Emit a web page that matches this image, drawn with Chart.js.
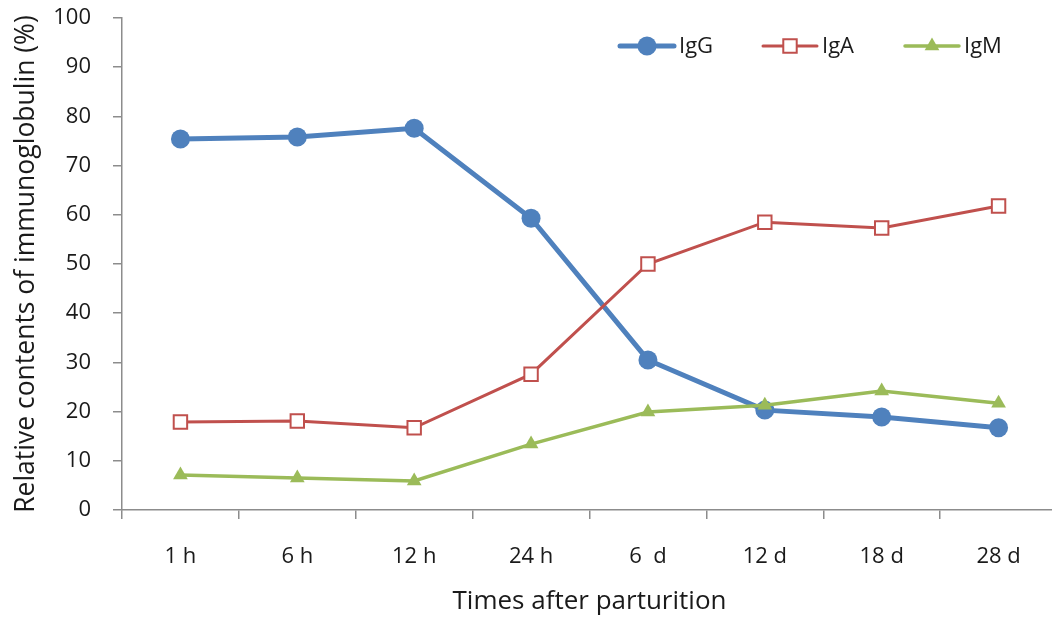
<!DOCTYPE html>
<html lang="en">

<head>
    <meta charset="UTF-8">
    <title>Relative contents of immunoglobulin</title>
    <style>
        html, body {
            margin: 0;
            padding: 0;
            background: #ffffff;
            overflow: hidden;
        }

        .chart-container {
            position: relative;
            width: 1057px;
            height: 620px;
        }
    </style>
</head>

<body>
    <div class="chart-container">
        <canvas id="chartCanvas"></canvas>
    </div>

    <script src="https://cdn.jsdelivr.net/npm/chart.js"></script>
    <script>
        // Sampling times and relative contents (%) of each immunoglobulin class
        const times = ['1 h', '6 h', '12 h', '24 h', '6  d', '12 d', '18 d', '28 d'];
        const igG = [75.4, 75.8, 77.6, 59.3, 30.5, 20.3, 18.9, 16.7];
        const igA = [17.9, 18.1, 16.7, 27.6, 50.0, 58.5, 57.3, 61.8];
        const igM = [7.1, 6.5, 5.9, 13.4, 19.9, 21.3, 24.2, 21.7];
        const yTicks = [0, 10, 20, 30, 40, 50, 60, 70, 80, 90, 100];

        const fontFamily = '"Open Sans", "Noto Sans", sans-serif';
        const axisGrey = '#8c8c8c';
        const textColor = '#1a1a1a';

        Chart.defaults.font.family = fontFamily;
        Chart.defaults.color = textColor;

        function drawMarker(ctx, style, x, y, r) {
            if (style === 'circle') {
                ctx.arc(x, y, r, 0, Math.PI * 2);
            } else if (style === 'rect') {
                const s = r * Math.SQRT1_2;
                ctx.rect(x - s, y - s, 2 * s, 2 * s);
            } else if (style === 'triangle') {
                ctx.moveTo(x, y - r);
                ctx.lineTo(x + r * 0.866, y + r * 0.5);
                ctx.lineTo(x - r * 0.866, y + r * 0.5);
                ctx.closePath();
            }
        }

        // legend drawn by hand: line - marker - line, then the label
        const lineLegend = {
            id: 'lineLegend',
            afterDraw(chart) {
                const ctx = chart.ctx;
                const starts = [620, 763, 905];
                const y = 46;
                ctx.save();
                chart.data.datasets.forEach(function (ds, i) {
                    const x = starts[i];
                    ctx.strokeStyle = ds.borderColor;
                    ctx.lineWidth = ds.borderWidth;
                    ctx.lineCap = 'round';
                    ctx.beginPath();
                    ctx.moveTo(x, y);
                    ctx.lineTo(x + 54, y);
                    ctx.stroke();
                    ctx.fillStyle = ds.pointBackgroundColor;
                    ctx.strokeStyle = ds.pointBorderColor;
                    ctx.lineWidth = ds.pointBorderWidth;
                    ctx.beginPath();
                    drawMarker(ctx, ds.pointStyle, x + 27, y, ds.pointRadius);
                    ctx.fill();
                    if (ds.pointBorderWidth) ctx.stroke();
                    ctx.fillStyle = textColor;
                    ctx.font = '22px ' + fontFamily;
                    ctx.textBaseline = 'middle';
                    ctx.textAlign = 'left';
                    ctx.fillText(ds.label, x + 59, y + 1);
                });
                ctx.restore();
            }
        };

        const ctx = document.getElementById('chartCanvas').getContext('2d');

        const chart = new Chart(ctx, {
            type: 'line',
            data: {
                labels: times,
                datasets: [{
                    label: 'IgG',
                    data: igG,
                    borderColor: '#4f81bd',
                    backgroundColor: '#4f81bd',
                    borderWidth: 5,
                    pointStyle: 'circle',
                    pointRadius: 9.5,
                    pointBackgroundColor: '#4f81bd',
                    pointBorderColor: '#4f81bd',
                    pointBorderWidth: 0,
                    tension: 0,
                    order: 3
                }, {
                    label: 'IgA',
                    data: igA,
                    borderColor: '#c0504d',
                    backgroundColor: '#ffffff',
                    borderWidth: 3,
                    pointStyle: 'rect',
                    pointRadius: 9.5,
                    pointBackgroundColor: '#ffffff',
                    pointBorderColor: '#c0504d',
                    pointBorderWidth: 2,
                    tension: 0,
                    order: 2
                }, {
                    label: 'IgM',
                    data: igM,
                    borderColor: '#9bbb59',
                    backgroundColor: '#9bbb59',
                    borderWidth: 3.5,
                    pointStyle: 'triangle',
                    pointRadius: 8.5,
                    pointBackgroundColor: '#9bbb59',
                    pointBorderColor: '#9bbb59',
                    pointBorderWidth: 0,
                    tension: 0,
                    order: 1
                }]
            },
            options: {
                responsive: true,
                maintainAspectRatio: false,
                animation: false,
                layout: {
                    autoPadding: false,
                    padding: { top: 18, right: 0, left: 0, bottom: 0 }
                },
                plugins: {
                    legend: { display: false },
                    tooltip: { enabled: false }
                },
                scales: {
                    x: {
                        offset: true,
                        grid: {
                            offset: true,
                            drawOnChartArea: false,
                            drawTicks: true,
                            tickLength: 9,
                            color: axisGrey,
                            lineWidth: 1.5
                        },
                        border: { display: true, color: axisGrey, width: 1.5 },
                        ticks: {
                            padding: 25,
                            maxRotation: 0,
                            font: { size: 22 },
                            color: textColor
                        },
                        title: {
                            display: true,
                            text: 'Times after parturition',
                            font: { size: 26 },
                            color: textColor,
                            padding: { top: 0, bottom: 3 }
                        },
                        afterFit(scale) {
                            scale.height = 110;
                            scale.paddingLeft = 0;
                            scale.paddingRight = 0;
                        }
                    },
                    y: {
                        min: 0,
                        max: 100,
                        afterBuildTicks(scale) {
                            scale.ticks = yTicks.map(v => ({ value: v }));
                        },
                        grid: {
                            drawOnChartArea: false,
                            drawTicks: true,
                            tickLength: 9,
                            color: axisGrey,
                            lineWidth: 1.5
                        },
                        border: { display: true, color: axisGrey, width: 1.5 },
                        ticks: {
                            padding: 22,
                            font: { size: 22 },
                            color: textColor
                        },
                        title: {
                            display: true,
                            text: 'Relative contents of immunoglobulin (%)',
                            font: { size: 26.5 },
                            color: textColor,
                            padding: { top: 11, bottom: 0 }
                        },
                        afterFit(scale) {
                            scale.width = 122;
                            scale.paddingTop = 0;
                            scale.paddingBottom = 0;
                        }
                    }
                }
            },
            plugins: [lineLegend]
        });
    </script>
</body>

</html>
